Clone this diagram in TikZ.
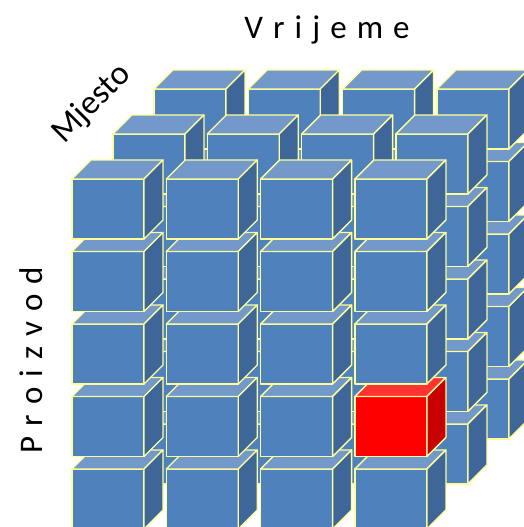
\documentclass[tikz,border=0pt]{standalone}
\usepackage{fontspec}
\setmainfont{Carlito}
\newfontfamily\spacedfont[WordSpace=1.35]{Carlito}
\definecolor{cubefront}{HTML}{4F81BD}
\definecolor{cubetop}{HTML}{7299C9}
\definecolor{cubeside}{HTML}{3E6699}
\definecolor{hotfront}{HTML}{FF0000}
\definecolor{hottop}{HTML}{FF3333}
\definecolor{hotside}{HTML}{C80000}
\definecolor{edgeyellow}{HTML}{FFFF99}

\tikzset{
    pics/cube/.style={code={
        \filldraw[#1front] (0,0) rectangle (72,60);
        \filldraw[#1top] (0,0) -- (19,-19) -- (91,-19) -- (72,0) -- cycle;
        \filldraw[#1side] (72,0) -- (91,-19) -- (91,41) -- (72,60) -- cycle;
    }}
}

\begin{document}
\begin{tikzpicture}[
    x=1pt, y=-1pt,
    cubeedge/.style={draw=edgeyellow, line width=1.3pt, line join=round},
    bluefront/.style={cubeedge, fill=cubefront},
    bluetop/.style={cubeedge, fill=cubetop},
    blueside/.style={cubeedge, fill=cubeside},
    redfront/.style={cubeedge, fill=hotfront},
    redtop/.style={cubeedge, fill=hottop},
    redside/.style={cubeedge, fill=hotside},
    axislabel/.style={inner sep=0pt, text=black, font=\spacedfont\fontsize{33}{33}\selectfont}
]
\useasboundingbox (0,0) rectangle (524,527);
\clip (0,0) rectangle (524,527);

% Cubes: back layer first, bottom row first
\foreach \l in {2,1,0} {
  \foreach \r in {4,3,2,1,0} {
    \foreach \c in {0,1,2,3} {
      \def\kind{blue}
      \ifnum\l=0 \ifnum\r=3 \ifnum\c=3 \def\kind{red}\fi\fi\fi
      \pgfmathsetmacro{\xa}{72+94.3*\c+41*\l}
      \pgfmathsetmacro{\ya}{179+72.5*\r-45*\l}
      \pic at (\xa,\ya) {cube=\kind};
    }
  }
}

% Axis labels
\node[axislabel] (time) at (327,30) {V r i j e m e};
\node[axislabel, rotate=45, font=\fontsize{34}{34}\selectfont] (place) at (92,104) {Mjesto};
\node[axislabel, rotate=90] (product) at (31,360) {P r o i z v o d};

\end{tikzpicture}
\end{document}
